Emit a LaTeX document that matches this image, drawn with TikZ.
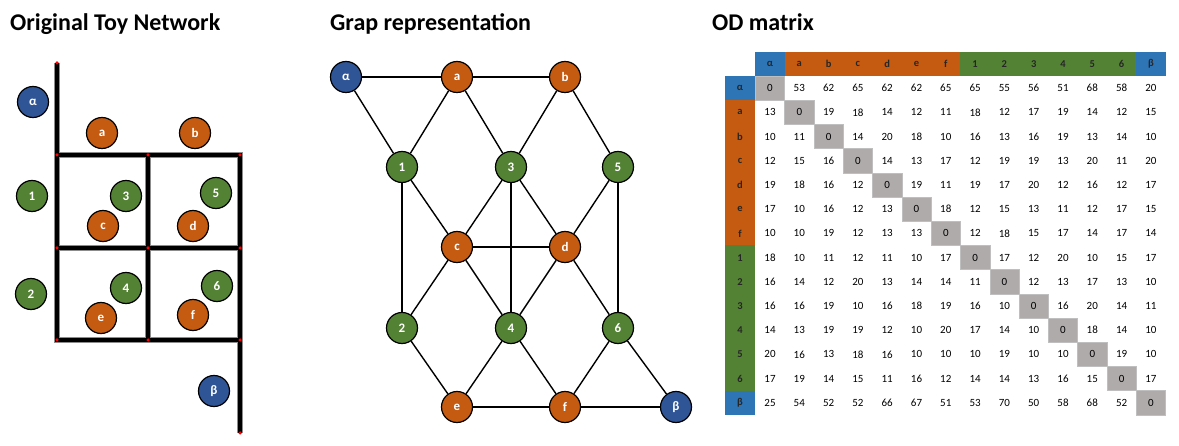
\documentclass[tikz,border=0pt]{standalone}
\usepackage{fontspec}
\setmainfont{Carlito}
\definecolor{cblue}{HTML}{2F5597}
\definecolor{corange}{HTML}{C55A11}
\definecolor{cgreen}{HTML}{548235}
\definecolor{mblue}{HTML}{2E75B6}
\definecolor{mgray}{HTML}{AFABAB}
\begin{document}
\begin{tikzpicture}[x=1pt,y=-1pt,
  title/.style={anchor=base west, font=\fontsize{24}{28}\selectfont\bfseries, inner sep=0},
  vnode/.style={circle, draw=black, line width=1.2pt, minimum size=31pt, inner sep=0, font=\fontsize{13}{15}\selectfont\bfseries, text=white},
  bn/.style={vnode, fill=cblue},
  on/.style={vnode, fill=corange},
  gn/.style={vnode, fill=cgreen},
  edge/.style={line width=1.4pt, black},
  road/.style={line width=4.5pt, black},
  roadedge/.style={line width=5.8pt, black!45},
  rdot/.style={circle, fill=red, inner sep=0, minimum size=3.5pt},
  cell/.style={minimum width=29.3pt, minimum height=24.2pt, inner sep=0, font=\fontsize{11}{13}\selectfont},
  hcell/.style={cell, font=\fontsize{10.5}{12}\selectfont\bfseries, text=black!85},
]
\useasboundingbox (0,0) rectangle (1179,446);

% titles
\node[title] (t1) at (10,31) {Original Toy Network};
\node[title] (t2) at (330,31) {Grap representation};
\node[title] (t3) at (712,31) {OD matrix};

% ---------- Original toy network ----------
\foreach \s in {roadedge, road}{
  \draw[\s] (57,63) -- (57,340) -- (240,340) -- (240,155) -- (57,155);
  \draw[\s] (57,248) -- (240,248);
  \draw[\s] (148,155) -- (148,340);
  \draw[\s] (240,340) -- (240,433);
}
\foreach \p [count=\k] in {(57,63),(57,155),(148,155),(240,155),(57,248),(148,248),(240,248),(57,340),(148,340),(240,340),(240,433)}
  \node[rdot] (rd\k) at \p {};

\node[bn] (oal) at (33,102) {α};
\node[on] (oa) at (102,133) {a};
\node[on] (ob) at (195,133) {b};
\node[gn] (o1) at (32,196) {1};
\node[gn] (o3) at (126,196) {3};
\node[gn] (o5) at (216,193) {5};
\node[on] (oc) at (103,226) {c};
\node[on] (od) at (193,226) {d};
\node[gn] (o2) at (31,294) {2};
\node[gn] (o4) at (126,288) {4};
\node[gn] (o6) at (217,286) {6};
\node[on] (oe) at (101,318) {e};
\node[on] (of) at (193,315) {f};
\node[bn] (obe) at (214,391) {β};

% ---------- Graph representation ----------
\node[bn] (gal) at (346,77) {α};
\node[on] (ga) at (457,77) {a};
\node[on] (gb) at (565,77) {b};
\node[gn] (g1) at (402,167) {1};
\node[gn] (g3) at (511,167) {3};
\node[gn] (g5) at (618,167) {5};
\node[on] (gc) at (457,247) {c};
\node[on] (gd) at (565,247) {d};
\node[gn] (g2) at (402,328) {2};
\node[gn] (g4) at (511,328) {4};
\node[gn] (g6) at (618,328) {6};
\node[on] (ge) at (457,407) {e};
\node[on] (gf) at (565,407) {f};
\node[bn] (gbe) at (676,407) {β};
\foreach \u/\v in {gal/ga, ga/gb, gal/g1, ga/g1, ga/g3, gb/g3, gb/g5, g1/gc, g1/g2, g3/gc, g3/g4, g3/gd, g5/gd, g5/g6, gc/gd, gc/g2, gc/g4, gd/g4, gd/g6, g2/ge, g4/ge, g4/gf, g6/gf, g6/gbe, ge/gf, gf/gbe}
  \draw[edge] (\u) -- (\v);

% ---------- OD matrix ----------
\def\labs{α,a,b,c,d,e,f,1,2,3,4,5,6,β}
\foreach \l [count=\j] in \labs {
  \pgfmathsetmacro\cx{770+29.3*(\j-1)}
  \pgfmathsetmacro\ry{64+24.2*\j}
  \ifnum\j=1 \def\fc{mblue}\fi
  \ifnum\j>1 \def\fc{corange}\fi
  \ifnum\j>7 \def\fc{cgreen}\fi
  \ifnum\j=14 \def\fc{mblue}\fi
  \node[hcell, fill=\fc, minimum width=29.6pt] (h\j) at (\cx,64) {\l};
  \node[hcell, fill=\fc, minimum width=30pt, minimum height=24.5pt] (r\j) at (740,\ry) {\l};
}
\foreach \r [count=\i] in {
 {0,53,62,65,62,62,65,65,55,56,51,68,58,20},
 {13,0,19,18,14,12,11,18,12,17,19,14,12,15},
 {10,11,0,14,20,18,10,16,13,16,19,13,14,10},
 {12,15,16,0,14,13,17,12,19,19,13,20,11,20},
 {19,18,16,12,0,19,11,19,17,20,12,16,12,17},
 {17,10,16,12,13,0,18,12,15,13,11,12,17,15},
 {10,10,19,12,13,13,0,12,18,15,17,14,17,14},
 {18,10,11,12,11,10,17,0,17,12,20,10,15,17},
 {16,14,12,20,13,14,14,11,0,12,13,17,13,10},
 {16,16,19,10,16,18,19,16,10,0,16,20,14,11},
 {14,13,19,19,12,10,20,17,14,10,0,18,14,10},
 {20,16,13,18,16,10,10,10,19,10,10,0,19,10},
 {17,19,14,15,11,16,12,14,14,13,16,15,0,17},
 {25,54,52,52,66,67,51,53,70,50,58,68,52,0}} {
  \foreach \v [count=\j] in \r {
    \pgfmathsetmacro\cx{770+29.3*(\j-1)}
    \pgfmathsetmacro\ry{64+24.2*\i}
    \ifnum\i=\j
      \node[cell, fill=mgray, draw=black!25, line width=0.4pt] (m\i-\j) at (\cx,\ry) {\v};
    \else
      \node[cell] (m\i-\j) at (\cx,\ry) {\v};
    \fi
  }
}
\end{tikzpicture}
\end{document}
